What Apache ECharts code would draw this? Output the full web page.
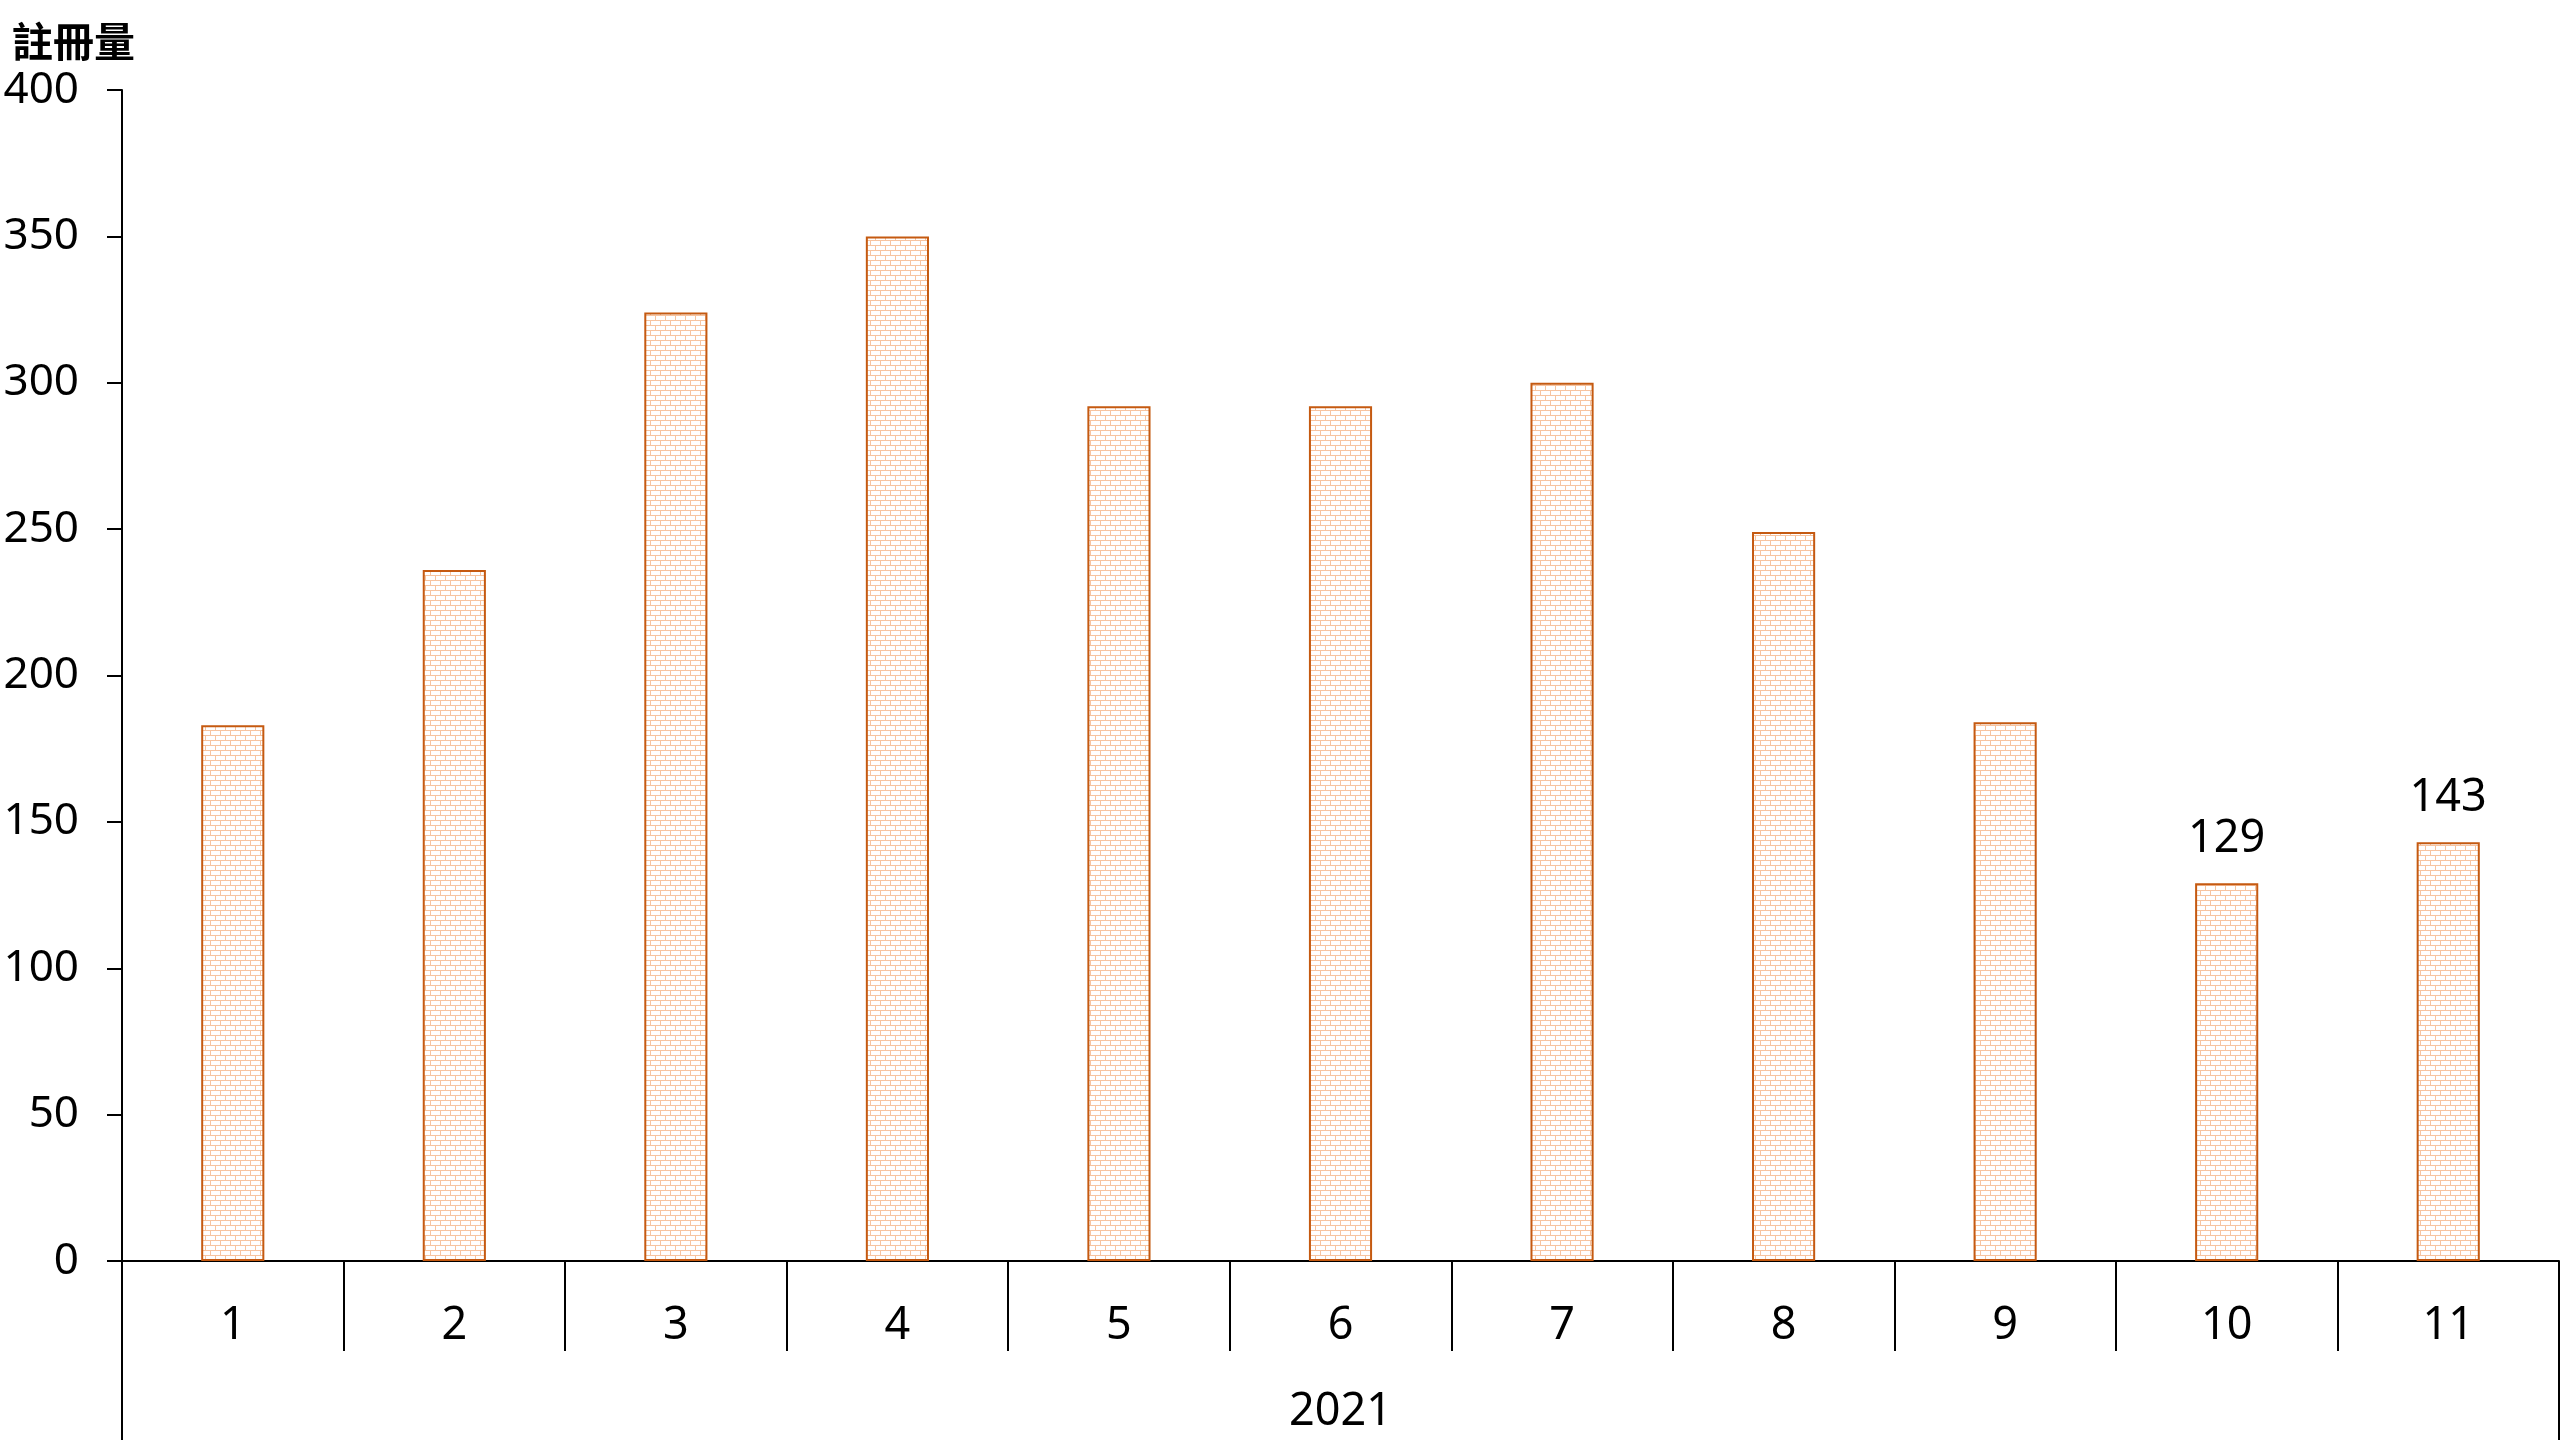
<!DOCTYPE html>
<html>
<head>
<meta charset="utf-8">
<script src="https://cdn.jsdelivr.net/npm/echarts@6/dist/echarts.min.js"></script>
<style>
html,body{margin:0;padding:0;background:#fff;}
#chart{width:2560px;height:1440px;}
</style>
</head>
<body>
<div id="chart"></div>
<script>
const months = ['1','2','3','4','5','6','7','8','9','10','11'];
const registrations = [183, 236, 324, 350, 292, 292, 300, 249, 184, 129, 143];
const labelledMonths = ['10', '11'];
const yearLabels = ['2021'];
const yTitle = '註冊量';

// brick pattern
const pc = document.createElement('canvas');
pc.width = 20; pc.height = 10;
const g = pc.getContext('2d');
g.fillStyle = '#ffffff';
g.fillRect(0, 0, 20, 10);
g.fillStyle = '#F7C4A0';
g.fillRect(0, 0, 20, 1);
g.fillRect(0, 5, 20, 1);
g.fillRect(0, 0, 1, 5);
g.fillRect(10, 0, 1, 5);
g.fillRect(5, 5, 1, 5);
g.fillRect(15, 5, 1, 5);

const font = '"Noto Sans", "Open Sans", sans-serif';
const chart = echarts.init(document.getElementById('chart'), null, {renderer: 'canvas'});
chart.setOption({
  animation: false,
  backgroundColor: '#ffffff',
  title: {
    text: yTitle, left: 7, top: 16,
    textStyle: {fontFamily: '"Noto Sans CJK TC", sans-serif', fontWeight: 'bold', fontSize: 41, color: '#000'}
  },
  grid: {left: 122, right: 1, top: 90, bottom: 179, containLabel: false, outerBoundsMode: 'none'},
  xAxis: [{
    type: 'category', data: months, position: 'bottom',
    axisLine: {show: true, lineStyle: {color: '#000', width: 2}},
    axisTick: {show: true, length: 90, interval: 0, lineStyle: {color: '#000', width: 2}},
    axisLabel: {margin: 43, fontSize: 45, color: '#000', fontFamily: font, interval: 0}
  }, {
    type: 'category', data: yearLabels, position: 'bottom', gridIndex: 0,
    axisLine: {show: false},
    axisTick: {show: true, length: 180, interval: 0, lineStyle: {color: '#000', width: 2}},
    axisLabel: {margin: 129, fontSize: 45, color: '#000', fontFamily: font}
  }],
  yAxis: {
    type: 'value', min: 0, max: 400, interval: 50,
    axisLine: {show: true, lineStyle: {color: '#000', width: 2}},
    axisTick: {show: true, inside: false, length: 15, lineStyle: {color: '#000', width: 2}},
    axisLabel: {margin: 43, fontSize: 44, color: '#000', fontFamily: font, padding: [6, 0, 0, 0]},
    splitLine: {show: false}
  },
  series: [{
    type: 'bar', xAxisIndex: 0,
    data: registrations.map((v, i) => ({
      value: v,
      label: {show: labelledMonths.indexOf(months[i]) >= 0}
    })),
    barWidth: '28.5%',
    itemStyle: {color: {image: pc, repeat: 'repeat'}, borderColor: '#C55A11', borderWidth: 2},
    label: {position: 'top', distance: 22, fontSize: 45, color: '#000', fontFamily: font}
  }]
});
</script>
</body>
</html>
